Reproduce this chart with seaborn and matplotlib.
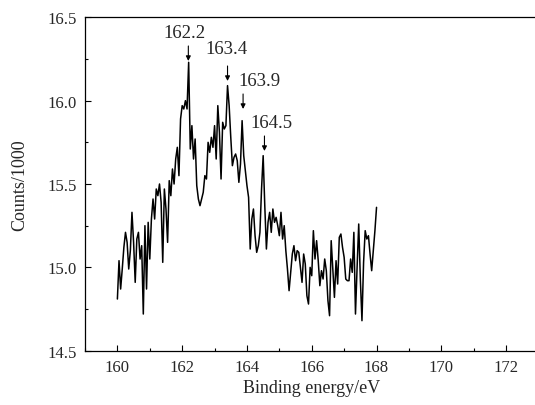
import numpy as np
import pandas as pd
import matplotlib
matplotlib.use('Agg')
import matplotlib.pyplot as plt
import seaborn as sns
from matplotlib.ticker import MultipleLocator

# S 2p spectrum, counts in thousands (0.05 eV steps from 160 eV)
counts = [
    14.81, 15.04, 14.87, 14.99, 15.12, 15.21, 15.15,
    14.99, 15.10, 15.33, 15.15, 14.91, 15.17, 15.21, 15.05, 15.13, 14.72,
    15.25, 14.87, 15.27, 15.05, 15.29, 15.41, 15.29, 15.47, 15.43, 15.50,
    15.39, 15.03, 15.47, 15.35, 15.15, 15.52, 15.43, 15.59, 15.50, 15.65,
    15.72, 15.55, 15.89,
    15.97, 15.95, 16.00, 15.95, 16.23, 15.71, 15.85, 15.65, 15.77, 15.49,
    15.41, 15.37, 15.41, 15.45,
    15.55, 15.53, 15.75, 15.69, 15.78, 15.72, 15.85, 15.65, 15.97, 15.81,
    15.53, 15.87, 15.83, 15.85, 16.09, 15.97, 15.78, 15.61, 15.66, 15.68,
    15.64, 15.51, 15.62, 15.88, 15.67, 15.58,
    15.49, 15.42, 15.11, 15.29, 15.35, 15.19, 15.09, 15.13, 15.21, 15.47,
    15.67, 15.37, 15.11, 15.27, 15.33, 15.21, 15.35, 15.27, 15.30, 15.25,
    15.19, 15.33, 15.17, 15.25, 15.10, 14.99, 14.86, 14.97, 15.08, 15.13,
    15.04, 15.10, 15.09, 15.00, 14.91, 15.08, 15.02, 14.83, 14.78, 15.00,
    14.95, 15.22, 15.05, 15.16, 15.04, 14.89,
    14.98, 14.93, 15.05, 14.98, 14.80, 14.71, 15.16, 14.99, 14.82, 15.04,
    14.90, 15.18, 15.20, 15.12, 15.06, 14.93, 14.92, 14.92, 15.05, 14.97,
    15.21, 14.72, 15.00, 15.26, 14.93, 14.68, 15.03, 15.22, 15.17, 15.19,
    15.08, 14.98, 15.10, 15.22, 15.36,
]
energy = np.round(160 + 0.05 * np.arange(len(counts)), 2)

peak_labels = ['162.2', '163.4', '163.9', '164.5']
peak_x = [162.19, 163.40, 163.88, 164.54]
peak_tip = [16.238, 16.118, 15.95, 15.698]

df = pd.DataFrame({'energy': energy, 'counts': counts})

sns.set_style('ticks')
plt.rcParams['font.family'] = ['Liberation Serif', 'DejaVu Serif']

fig = plt.figure(figsize=(5.35, 4.06), dpi=100)
ax = fig.add_axes([85 / 535, 1 - 351.7 / 406, 453.5 / 535, 333.4 / 406])

sns.lineplot(data=df, x='energy', y='counts', color='black', linewidth=1.1, ax=ax)

# labels sit above the arrows, not always centred on them
text_pos = [(162.06, 16.41), (163.38, 16.31), (164.40, 16.118), (164.77, 15.866)]
for lab, px, tip, (tx, ty) in zip(peak_labels, peak_x, peak_tip, text_pos):
    ax.text(tx, ty, lab, ha='center', va='center', fontsize=13.5)
    ax.annotate('', xy=(px, tip), xytext=(px, tip + 0.09),
                arrowprops=dict(arrowstyle='-|>', color='black', lw=0.8,
                                mutation_scale=7, shrinkA=0, shrinkB=0))

ax.set_xlim(159, 173)
ax.set_ylim(14.5, 16.5)
ax.xaxis.set_major_locator(MultipleLocator(2))
ax.xaxis.set_minor_locator(MultipleLocator(1))
ax.yaxis.set_major_locator(MultipleLocator(0.5))
ax.yaxis.set_minor_locator(MultipleLocator(0.25))
ax.yaxis.set_major_formatter(matplotlib.ticker.FormatStrFormatter('%.1f'))
ax.tick_params(which='both', direction='in', top=False, right=False,
               labelsize=12, width=0.8, color='black')
ax.tick_params(which='major', length=4.5, pad=6)
ax.tick_params(which='minor', length=2.5)
for s in ax.spines.values():
    s.set_linewidth(0.9)
    s.set_color('black')

ax.set_xlabel('Binding energy/eV', fontsize=13, labelpad=3)
ax.set_ylabel('Counts/1000', fontsize=13, labelpad=14)

fig.savefig('out.png', dpi=100)
